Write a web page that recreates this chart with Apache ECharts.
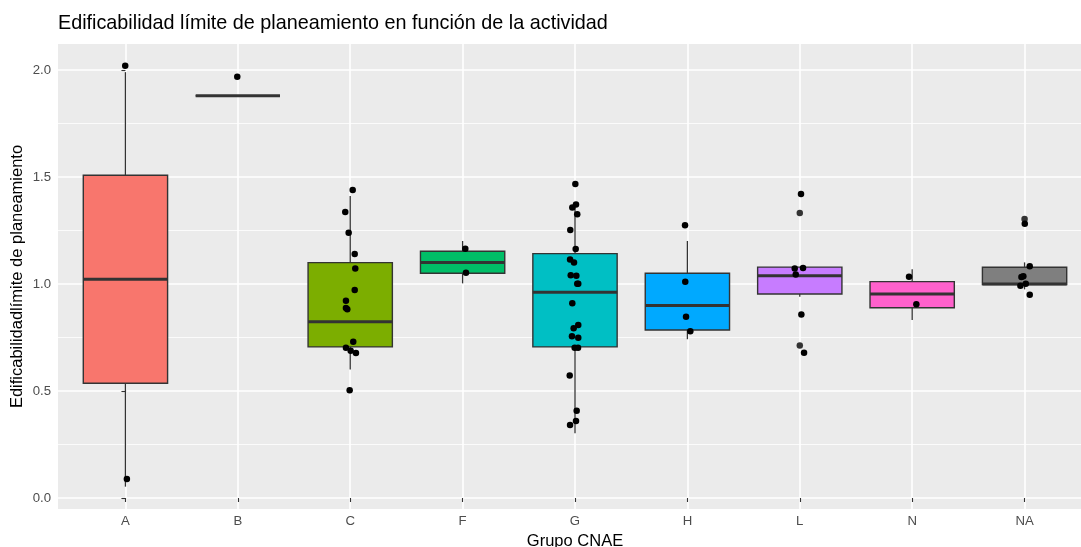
<!DOCTYPE html>
<html>
<head>
<meta charset="utf-8">
<script src="https://cdn.jsdelivr.net/npm/echarts@6/dist/echarts.min.js"></script>
<style>
html,body{margin:0;padding:0;background:#fff;}
#chart{width:1081px;height:547px;}
</style>
</head>
<body>
<div id="chart"></div>
<script>
// ---- data ----
const categories = ['A', 'B', 'C', 'F', 'G', 'H', 'L', 'N', 'NA'];
const whiskerLow  = [0.053, 1.88, 0.601, 1.003, 0.302, 0.742, 0.941, 0.832, 0.975];
const quartile1   = [0.536, 1.88, 0.706, 1.050, 0.706, 0.785, 0.953, 0.889, 0.997];
const medians     = [1.022, 1.88, 0.824, 1.101, 0.961, 0.900, 1.039, 0.953, 1.000];
const quartile3   = [1.508, 1.88, 1.100, 1.153, 1.142, 1.050, 1.079, 1.011, 1.078];
const whiskerHigh = [1.990, 1.88, 1.411, 1.201, 1.382, 1.201, 1.079, 1.069, 1.101];
const boxColors   = ['#F8766D', '#CD9600', '#7CAE00', '#00BE67', '#00BFC4', '#00A9FF', '#C77CFF', '#FF61CC', '#7F7F7F'];

// jittered observations: category index, horizontal jitter (category units), value
const pointCat = [0,0, 1,
  2,2,2,2,2,2,2,2,2,2,2,2,2,2,
  3,3,
  4,4,4,4,4,4,4,4,4,4,4,4,4,4,4,4,4,4,4,4,4,4,4,
  5,5,5,5,
  6,6,6,6,6,6,
  7,7,
  8,8,8,8,8,8,8];
const pointJitter = [-0.002,0.013, -0.005,
  0.022,-0.044,-0.014,0.040,0.045,0.040,-0.038,-0.038,-0.026,0.027,-0.038,0.004,0.051,-0.005,
  0.024,0.030,
  0.003,0.009,-0.024,0.020,-0.042,0.006,-0.044,-0.009,-0.038,0.012,0.020,0.029,-0.024,0.029,-0.012,-0.027,0.029,-0.003,0.027,-0.047,0.015,0.009,-0.044,
  -0.021,-0.019,-0.012,0.026,
  0.011,-0.045,0.029,-0.036,0.014,0.038,
  -0.028,0.037,
  0.002,0.046,-0.028,-0.011,0.011,-0.037,0.046];
const pointValue = [2.020,0.089, 1.969,
  1.439,1.336,1.240,1.140,1.072,0.972,0.922,0.888,0.882,0.730,0.702,0.688,0.678,0.503,
  1.165,1.053,
  1.467,1.372,1.357,1.326,1.252,1.164,1.115,1.100,1.041,1.039,1.001,1.001,0.910,0.808,0.793,0.756,0.749,0.702,0.702,0.572,0.408,0.360,0.341,
  1.274,1.011,0.847,0.779,
  1.421,1.073,1.075,1.044,0.858,0.679,
  1.034,0.905,
  1.282,1.083,1.033,1.036,1.001,0.992,0.950];

// boxplot outliers (drawn by the box layer)
const outlierCat   = [6, 6, 8];
const outlierValue = [1.332, 0.713, 1.304];

const yMajorTicks = [0, 0.5, 1, 1.5, 2];
const yMinorTicks = [0.25, 0.75, 1.25, 1.75];
const xTicks = [0, 1, 2, 3, 4, 5, 6, 7, 8];

// ---- build ----
const boxData = categories.map((c, i) => [i, whiskerLow[i], quartile1[i], medians[i], quartile3[i], whiskerHigh[i]]);
const jitterData = pointValue.map((v, i) => [pointCat[i] + pointJitter[i], v]);
const outlierData = outlierValue.map((v, i) => [outlierCat[i], v]);

const FONT = 'Liberation Sans, Arial, Helvetica, sans-serif';
const chart = echarts.init(document.getElementById('chart'), null, {renderer: 'canvas'});

const option = {
  animation: false,
  textStyle: {fontFamily: FONT},
  title: {
    text: 'Edificabilidad límite de planeamiento en función de la actividad',
    left: 58, top: 14, padding: 0,
    textStyle: {fontFamily: FONT, fontSize: 19.8, fontWeight: 'normal', color: '#000'}
  },
  grid: {
    left: 58, right: -11, top: 44, bottom: 38,
    show: true, backgroundColor: '#EBEBEB', borderWidth: 0,
    outerBoundsMode: 'none', containLabel: false
  },
  xAxis: {
    type: 'value', min: -0.6, max: 8.6,
    axisLine: {show: false},
    axisTick: {show: true, customValues: xTicks, length: 4, lineStyle: {color: '#333333', width: 1.1}},
    axisLabel: {customValues: xTicks, formatter: v => categories[Math.round(v)], color: '#4D4D4D', fontSize: 13.2, margin: 6, fontFamily: FONT},
    splitLine: {show: true, lineStyle: {color: '#FFFFFF', width: 1.6}},
    name: 'Grupo CNAE', nameLocation: 'middle', nameGap: 23,
    nameTextStyle: {fontSize: 16.5, color: '#000', fontFamily: FONT}
  },
  yAxis: [{
    type: 'value', min: -0.0514, max: 2.1215,
    axisLine: {show: false},
    axisTick: {show: true, customValues: yMajorTicks, length: 4, lineStyle: {color: '#333333', width: 1.1}},
    axisLabel: {customValues: yMajorTicks, formatter: v => v.toFixed(1), color: '#4D4D4D', fontSize: 13.2, margin: 7, fontFamily: FONT},
    splitLine: {show: true, lineStyle: {color: '#FFFFFF', width: 1.6}},
    name: 'Edificabilidadlímite de planeamiento', nameLocation: 'middle', nameGap: 32,
    nameMoveOverlap: false,
    nameTextStyle: {fontSize: 16.5, color: '#000', fontFamily: FONT}
  }, {
    type: 'value', min: -0.0514, max: 2.1215, position: 'left',
    axisLine: {show: false},
    axisTick: {show: false, customValues: yMinorTicks},
    axisLabel: {show: false, customValues: yMinorTicks},
    splitLine: {show: true, lineStyle: {color: '#FFFFFF', width: 0.8}}
  }],
  series: [{
    type: 'custom',
    xAxisIndex: 0, yAxisIndex: 0,
    data: boxData,
    encode: {x: 0, y: [1, 2, 3, 4, 5]},
    z: 2,
    renderItem: function (params, api) {
      const x = api.value(0);
      const pLo = api.coord([x, api.value(1)]);
      const pA = api.coord([x, api.value(2)]);
      const pM = api.coord([x, api.value(3)]);
      const pB = api.coord([x, api.value(4)]);
      const pHi = api.coord([x, api.value(5)]);
      const halfW = api.size([0.75, 0])[0] / 2;
      const cx = pM[0];
      const stroke = '#333333';
      return {
        type: 'group',
        children: [
          {type: 'line', shape: {x1: cx, y1: pHi[1], x2: cx, y2: pB[1]}, style: {stroke: stroke, lineWidth: 1.3}},
          {type: 'line', shape: {x1: cx, y1: pA[1], x2: cx, y2: pLo[1]}, style: {stroke: stroke, lineWidth: 1.3}},
          {type: 'rect', shape: {x: cx - halfW, y: pB[1], width: 2 * halfW, height: pA[1] - pB[1]},
            style: {fill: boxColors[params.dataIndex], stroke: stroke, lineWidth: 1.4}},
          {type: 'line', shape: {x1: cx - halfW, y1: pM[1], x2: cx + halfW, y2: pM[1]}, style: {stroke: stroke, lineWidth: 3}}
        ]
      };
    }
  }, {
    type: 'scatter', xAxisIndex: 0, yAxisIndex: 0, z: 3,
    data: outlierData, symbol: 'circle', symbolSize: 6.5,
    itemStyle: {color: '#333333', opacity: 1}
  }, {
    type: 'scatter', xAxisIndex: 0, yAxisIndex: 0, z: 4,
    data: jitterData, symbol: 'circle', symbolSize: 6.5,
    itemStyle: {color: '#000000', opacity: 1}
  }]
};
chart.setOption(option);
</script>
</body>
</html>
